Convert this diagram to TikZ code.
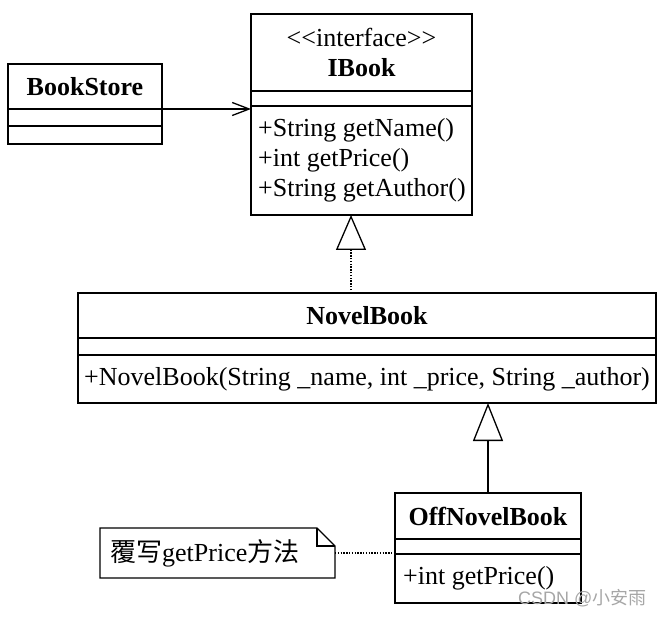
\documentclass[tikz,border=0pt]{standalone}
\usepackage{fontspec}
\newfontfamily\tnr{Liberation Serif}
\newfontfamily\cjk{Noto Sans CJK SC}
\newfontfamily\wmfont{Liberation Sans}
\usetikzlibrary{arrows.meta}
\begin{document}
\begin{tikzpicture}[x=1pt,y=-1pt,
  cls/.style={draw, line width=1.5pt, rectangle, anchor=north west, inner sep=0pt, outer sep=0pt,
    font=\tnr\fontsize{26}{30}\selectfont},
  txt/.style={anchor=west, inner sep=0pt, align=left,
    font=\tnr\fontsize{26}{30}\selectfont},
  notebox/.style={rectangle, anchor=north west, inner sep=0pt, outer sep=0pt},
  assoc/.style={line width=1.3pt, -{Straight Barb[length=17pt,width=13pt,line width=1.3pt]}},
  real/.style={line width=1.6pt, dash pattern=on 1.4pt off 1.4pt,
    -{Triangle[open,length=35pt,width=30pt,line width=1.3pt]}},
  gen/.style={line width=1.6pt, -{Triangle[open,length=38pt,width=30pt,line width=1.3pt]}},
  notelink/.style={line width=1.6pt, dash pattern=on 1.4pt off 1.4pt},
  noteline/.style={line width=1.2pt}
]
\useasboundingbox (0,0) rectangle (663,617);

% IBook
\node[cls, minimum width=221pt, minimum height=77pt, align=center] (ibh) at (251,14)
  {<<interface>>\\\textbf{IBook}};
\node[cls, minimum width=221pt, minimum height=15pt] (iba) at (ibh.south west) {};
\node[cls, minimum width=221pt, minimum height=109pt] (ibo) at (iba.south west) {};
\node[txt] (ibot) at ([xshift=7pt]ibo.west)
  {+String getName()\\+int getPrice()\\+String getAuthor()};

% BookStore
\node[cls, minimum width=154pt, minimum height=45pt] (bsh) at (8,64) {\textbf{BookStore}};
\node[cls, minimum width=154pt, minimum height=17pt] (bsa) at (bsh.south west) {};
\node[cls, minimum width=154pt, minimum height=18pt] (bso) at (bsa.south west) {};

% NovelBook
\node[cls, minimum width=578pt, minimum height=45pt] (nbh) at (78,293) {\textbf{NovelBook}};
\node[cls, minimum width=578pt, minimum height=17pt] (nba) at (nbh.south west) {};
\node[cls, minimum width=578pt, minimum height=48pt] (nbo) at (nba.south west) {};
\node[txt] (nbot) at ([xshift=6pt]nbo.west)
  {+NovelBook(String \_name, int \_price, String \_author)};

% OffNovelBook
\node[cls, minimum width=186pt, minimum height=46pt] (onh) at (395,493) {\textbf{OffNovelBook}};
\node[cls, minimum width=186pt, minimum height=15pt] (ona) at (onh.south west) {};
\node[cls, minimum width=186pt, minimum height=49pt] (ono) at (ona.south west) {};
\node[txt] (onot) at ([xshift=8pt]ono.west) {+int getPrice()};

% Note
\node[notebox, minimum width=235pt, minimum height=50pt] (note) at (100,528) {};
\node[txt] (notet) at ([xshift=10pt]note.west) {{\cjk 覆写}getPrice{\cjk 方法}};
\draw[noteline] (note.north west) -- ([xshift=-18pt]note.north east)
  -- ([yshift=-18pt]note.north east) -- (note.south east) -- (note.south west) -- cycle;
\draw[noteline] ([xshift=-18pt]note.north east) |- ([yshift=-18pt]note.north east);

% Connectors
\coordinate (rx) at (351,0);
\draw[assoc] (bsh.south east) -- (bsh.south east -| ibo.west);
\draw[real] (nbh.north -| rx) -- (ibo.south -| rx);
\draw[gen] (onh.north) -- (onh.north |- nbo.south);
\draw[notelink] (note.east) -- (note.east -| onh.west);

% Watermark
\node[font=\wmfont\fontsize{18}{18}\selectfont, text=black!35, anchor=east] (wm) at (650,598)
  {CSDN @{\cjk 小安雨}};
\end{tikzpicture}
\end{document}
